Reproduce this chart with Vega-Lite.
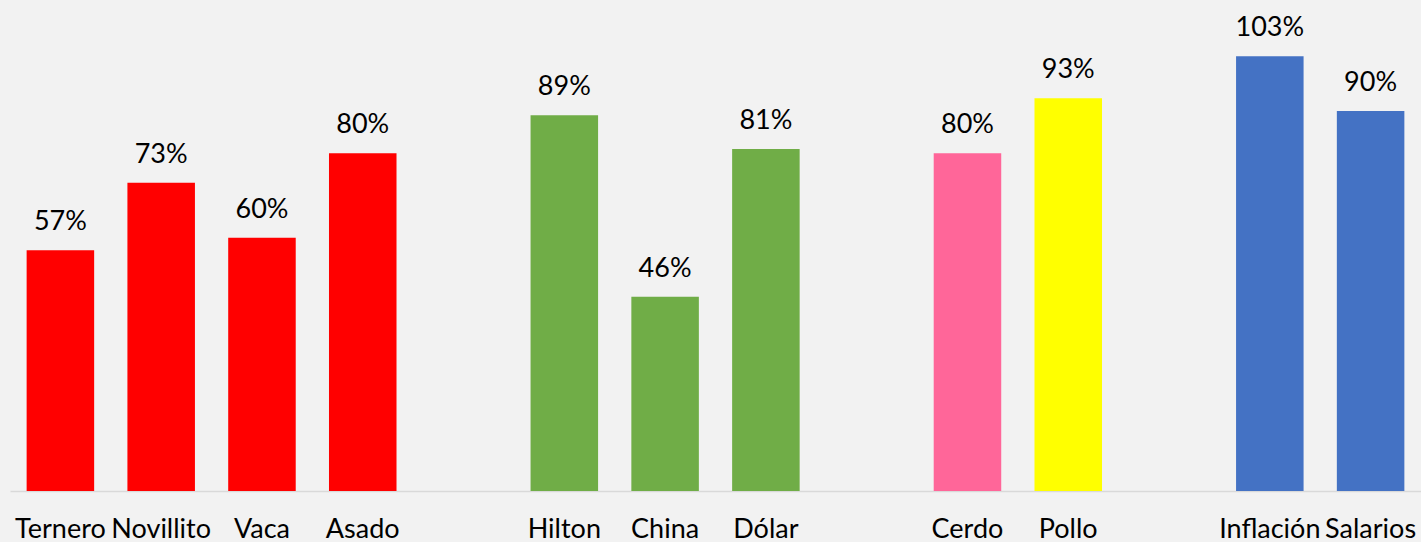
{
  "$schema": "https://vega.github.io/schema/vega-lite/v6.json",
  "width": 1411,
  "height": 491,
  "autosize": {"type": "none"},
  "padding": {"left": 10, "top": 0, "right": 0, "bottom": 51},
  "background": "#F2F2F2",
  "config": {"view": {"stroke": null}},
  "data": {"values": [
    {"cat": "Ternero", "grupo": "Hacienda", "valor": 0.57},
    {"cat": "Novillito", "grupo": "Hacienda", "valor": 0.73},
    {"cat": "Vaca", "grupo": "Hacienda", "valor": 0.60},
    {"cat": "Asado", "grupo": "Hacienda", "valor": 0.80},
    {"cat": "Hilton", "grupo": "Exportación", "valor": 0.89},
    {"cat": "China", "grupo": "Exportación", "valor": 0.46},
    {"cat": "Dólar", "grupo": "Exportación", "valor": 0.81},
    {"cat": "Cerdo", "grupo": "Cerdo", "valor": 0.80},
    {"cat": "Pollo", "grupo": "Pollo", "valor": 0.93},
    {"cat": "Inflación", "grupo": "Macro", "valor": 1.03},
    {"cat": "Salarios", "grupo": "Macro", "valor": 0.90}
  ]},
  "encoding": {
    "x": {
      "field": "cat", "type": "nominal", "sort": null,
      "scale": {
        "domain": ["Ternero", "Novillito", "Vaca", "Asado", " ", "Hilton", "China", "Dólar", "  ", "Cerdo", "Pollo", "   ", "Inflación", "Salarios"],
        "paddingInner": 0.33, "paddingOuter": 0.165
      },
      "axis": {
        "title": null, "ticks": false, "labelAngle": 0,
        "domainColor": "#D9D9D9", "domainWidth": 1.5,
        "labelFont": "Lato", "labelFontSize": 27, "labelColor": "#000000",
        "labelPadding": 25, "labelOverlap": false
      }
    },
    "y": {
      "field": "valor", "type": "quantitative",
      "scale": {"domain": [0, 1.163], "nice": false, "zero": true},
      "axis": null
    }
  },
  "layer": [
    {
      "mark": {"type": "bar"},
      "encoding": {
        "color": {
          "field": "grupo", "type": "nominal", "legend": null,
          "scale": {
            "domain": ["Hacienda", "Exportación", "Cerdo", "Pollo", "Macro"],
            "range": ["#FF0000", "#70AD47", "#FF6699", "#FFFF00", "#4472C4"]
          }
        }
      }
    },
    {
      "mark": {"type": "text", "font": "Lato", "fontSize": 27, "color": "#000000", "baseline": "alphabetic", "dy": -20},
      "encoding": {
        "text": {"field": "valor", "type": "quantitative", "format": ".0%"}
      }
    }
  ]
}
